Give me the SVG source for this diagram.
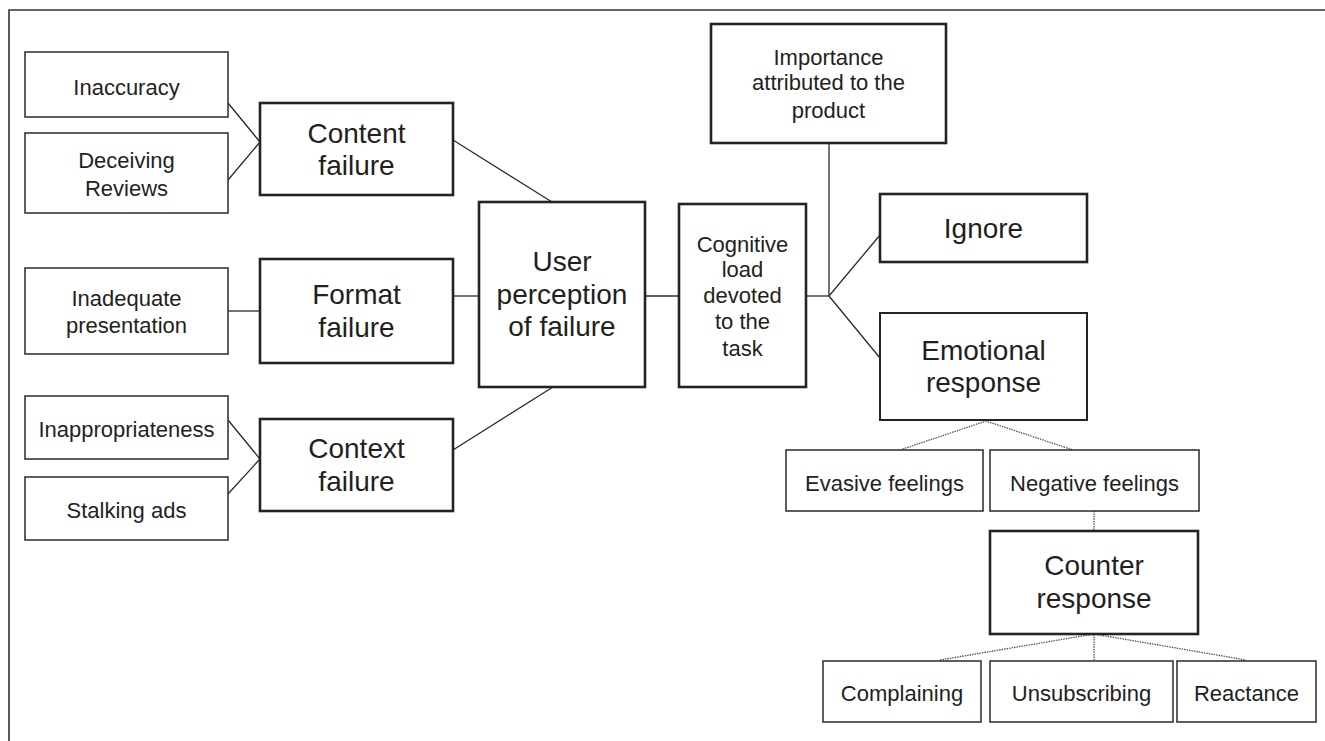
<svg xmlns="http://www.w3.org/2000/svg" width="1325" height="741" viewBox="0 0 1325 741">
<style>
  .thin { fill: #fff; stroke: #2a2a2a; stroke-width: 1.5; }
  .thick { fill: #fff; stroke: #232323; stroke-width: 2.6; }
  .mid { fill: #fff; stroke: #232323; stroke-width: 2; }
  .s { font-family: "Liberation Sans", Arial, sans-serif; font-size: 22px; fill: #231f20; text-anchor: middle; }
  .l { font-family: "Liberation Sans", Arial, sans-serif; font-size: 28px; fill: #231f20; text-anchor: middle; }
  .conn { stroke: #2a2a2a; stroke-width: 1.3; fill: none; }
  .dot { stroke: #555; stroke-width: 1.3; fill: none; stroke-dasharray: 1.5 1; }
</style>
<rect width="1325" height="741" fill="#fff"/>
<path d="M9,745 V10 H1330" fill="none" stroke="#333" stroke-width="1.6"/>

<g id="connectors">
  <path class="conn" d="M228,103 L260,142 L228,180"/>
  <path class="conn" d="M228,311 H260"/>
  <path class="conn" d="M228,420 L260,459 L228,494"/>
  <path class="conn" d="M453,140 L552,202"/>
  <path class="conn" d="M453,296 H479"/>
  <path class="conn" d="M453,450 L553,387"/>
  <path class="conn" d="M645,296 H679"/>
  <path class="conn" d="M806,296 H829"/>
  <path class="conn" d="M829,143 V296"/>
  <path class="conn" d="M829,296 L880,235"/>
  <path class="conn" d="M829,296 L880,358"/>
  <path class="dot" d="M900,450 L986,421 L1073,450"/>
  <path class="dot" d="M1094,511 V531"/>
  <path class="dot" d="M940,660 L1094,634 L1246,660"/>
  <path class="dot" d="M1094,634 V660"/>
</g>

<g id="inaccuracy"><rect class="thin" x="25" y="52" width="203" height="65"/><text class="s" x="126.5" y="95">Inaccuracy</text></g>
<g id="deceiving-reviews"><rect class="thin" x="25" y="133" width="203" height="80"/><text class="s" x="126.5" y="168">Deceiving</text><text class="s" x="126.5" y="196">Reviews</text></g>
<g id="inadequate-presentation"><rect class="thin" x="25" y="268" width="203" height="86"/><text class="s" x="126.5" y="306">Inadequate</text><text class="s" x="126.5" y="333">presentation</text></g>
<g id="inappropriateness"><rect class="thin" x="25" y="396" width="203" height="63"/><text class="s" x="126.5" y="437">Inappropriateness</text></g>
<g id="stalking-ads"><rect class="thin" x="25" y="477" width="203" height="63"/><text class="s" x="126.5" y="518">Stalking ads</text></g>

<g id="content-failure"><rect class="thick" x="260" y="103" width="193" height="92"/><text class="l" x="356.5" y="143">Content</text><text class="l" x="356.5" y="175">failure</text></g>
<g id="format-failure"><rect class="thick" x="260" y="259" width="193" height="104"/><text class="l" x="356.5" y="304">Format</text><text class="l" x="356.5" y="337">failure</text></g>
<g id="context-failure"><rect class="thick" x="260" y="419" width="193" height="92"/><text class="l" x="356.5" y="458">Context</text><text class="l" x="356.5" y="491">failure</text></g>

<g id="user-perception"><rect class="thick" x="479" y="202" width="166" height="185"/><text class="l" x="562" y="271">User</text><text class="l" x="562" y="304">perception</text><text class="l" x="562" y="336">of failure</text></g>
<g id="cognitive-load"><rect class="thick" x="679" y="204" width="127" height="183"/><text class="s" x="742.5" y="252">Cognitive</text><text class="s" x="742.5" y="277">load</text><text class="s" x="742.5" y="303">devoted</text><text class="s" x="742.5" y="329">to the</text><text class="s" x="742.5" y="356">task</text></g>
<g id="importance"><rect class="thick" x="711" y="24" width="235" height="119"/><text class="s" x="828.5" y="65">Importance</text><text class="s" x="828.5" y="90">attributed to the</text><text class="s" x="828.5" y="118">product</text></g>

<g id="ignore"><rect class="thick" x="880" y="194" width="207" height="68"/><text class="l" x="983.5" y="238">Ignore</text></g>
<g id="emotional-response"><rect class="mid" x="880" y="313" width="207" height="107"/><text class="l" x="983.5" y="360">Emotional</text><text class="l" x="983.5" y="392">response</text></g>

<g id="evasive-feelings"><rect class="thin" x="786" y="450" width="197" height="61"/><text class="s" x="884.5" y="491">Evasive feelings</text></g>
<g id="negative-feelings"><rect class="thin" x="990" y="450" width="209" height="61"/><text class="s" x="1094.5" y="491">Negative feelings</text></g>

<g id="counter-response"><rect class="thick" x="990" y="531" width="208" height="103"/><text class="l" x="1094" y="575">Counter</text><text class="l" x="1094" y="608">response</text></g>

<g id="complaining"><rect class="thin" x="823" y="661" width="158" height="61"/><text class="s" x="902" y="701">Complaining</text></g>
<g id="unsubscribing"><rect class="thin" x="990" y="661" width="183" height="61"/><text class="s" x="1081.5" y="701">Unsubscribing</text></g>
<g id="reactance"><rect class="thin" x="1177" y="661" width="139" height="61"/><text class="s" x="1246.5" y="701">Reactance</text></g>
</svg>
